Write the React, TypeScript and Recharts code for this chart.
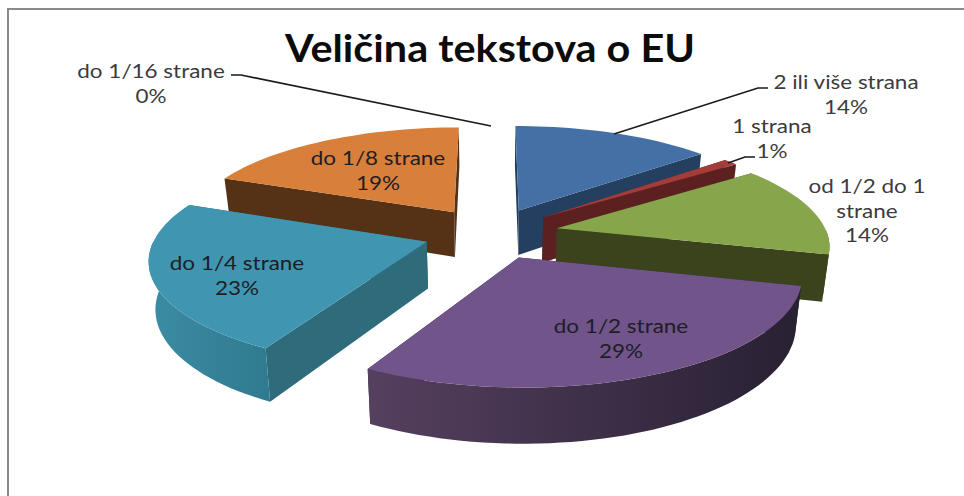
import { Pie, PieChart } from "recharts";

// Slices are listed from the back of the chart, so the front ones paint last.
const names = ["do 1/8 strane", "2 ili više strana", "1 strana", "od 1/2 do 1 strane", "do 1/2 strane", "do 1/4 strane", "do 1/16 strane"];
const shares = [19, 14, 1, 14, 29, 23, 0];
const topColors = ["#d87f3a", "#4470a6", "#a33d3a", "#87a64c", "#70548a", "#4096b0", "#999999"];
const wallColors = ["#553216", "#253f61", "#5c2020", "#3a431c", "#2f2439", "#2e6b7b", "#555555"];
const rimFrom = ["#5a3618", "#2a4669", "#5c2020", "#3a431c", "#55405f", "#3c8ca4", "#555555"];
const rimTo = ["#553216", "#253f61", "#5c2020", "#3a431c", "#282033", "#2f7a8e", "#555555"];

const data = names.map((name, i) => ({ name, value: shares[i] }));

const CX = 491;
const CY = 233;
const RADIUS = 270;
const RY = 103; // flattened height of the disc
const PERSPECTIVE = 0.147;
const EXPLODE = 0.25;
const DEPTH = 46;

type Pt = { x: number; y: number };

// plane coords (u right, v towards viewer) -> screen
const project = (u: number, v: number, bottom = false): Pt => {
  const w = 1 - PERSPECTIVE * v;
  const x = (RADIUS * u) / w;
  const y = (RY * v) / w;
  if (!bottom) return { x: CX + x, y: CY + y };
  return { x: CX + x * 0.98, y: CY + y + DEPTH / w };
};

const toPath = (pts: Pt[]) =>
  pts.map((p, i) => `${i ? "L" : "M"}${p.x.toFixed(1)},${p.y.toFixed(1)}`).join(" ") + " Z";

const Slice3D = (props: any) => {
  const { startAngle, endAngle, index } = props;
  if (startAngle === endAngle) return null;
  // recharts angles are counter-clockwise from 3 o'clock
  const rad = (a: number) => (a * Math.PI) / 180;
  const mid = rad((startAngle + endAngle) / 2);
  const ou = EXPLODE * Math.cos(mid);
  const ov = -EXPLODE * Math.sin(mid);
  const arc: [number, number][] = [];
  const front: [number, number][] = [];
  const steps = Math.max(4, Math.ceil(Math.abs(startAngle - endAngle) / 2));
  for (let s = 0; s <= steps; s++) {
    const a = rad(startAngle + ((endAngle - startAngle) * s) / steps);
    const pt: [number, number] = [ou + Math.cos(a), ov - Math.sin(a)];
    arc.push(pt);
    // only the part of the rim that faces the viewer gets a wall
    if (Math.sin(a) <= 0) front.push(pt);
  }
  const top = arc.map(([u, v]) => project(u, v));
  const low = arc.map(([u, v]) => project(u, v, true));
  const apexTop = project(ou, ov);
  const apexLow = project(ou, ov, true);
  const gradId = `rim-${index}`;
  const wall = wallColors[index];
  return (
    <g>
      <defs>
        <linearGradient id={gradId} x1="0" y1="0" x2="1" y2="0">
          <stop offset="0" stopColor={rimFrom[index]} />
          <stop offset="1" stopColor={rimTo[index]} />
        </linearGradient>
      </defs>
      <path d={toPath([apexTop, top[0], low[0], apexLow])} fill={wall} />
      <path d={toPath([apexTop, top[steps], low[steps], apexLow])} fill={wall} />
      {front.length > 1 && (
        <path
          d={toPath([
            ...front.map(([u, v]) => project(u, v)),
            ...[...front].reverse().map(([u, v]) => project(u, v, true)),
          ])}
          fill={`url(#${gradId})`}
        />
      )}
      <path d={toPath([apexTop, ...top])} fill={topColors[index]} />
    </g>
  );
};

type LabelSpec = { lines: string[]; x: number; y: number; dark?: boolean; leader?: [number, number][] };

const labelSpecs: Record<string, LabelSpec> = {
  "do 1/16 strane": { lines: ["do 1/16 strane", "0%"], x: 151, y: 78, leader: [[231, 75], [241, 75], [491, 126]] },
  "2 ili više strana": { lines: ["2 ili više strana", "14%"], x: 846, y: 89, leader: [[614, 134], [758, 88], [768, 88]] },
  "1 strana": { lines: ["1 strana", "1%"], x: 772, y: 133, leader: [[728, 163], [745, 157], [755, 157]] },
  "od 1/2 do 1 strane": { lines: ["od 1/2 do 1", "strane", "14%"], x: 867, y: 193 },
  "do 1/8 strane": { lines: ["do 1/8 strane", "19%"], x: 378, y: 165, dark: true },
  "do 1/4 strane": { lines: ["do 1/4 strane", "23%"], x: 237, y: 270, dark: true },
  "do 1/2 strane": { lines: ["do 1/2 strane", "29%"], x: 621, y: 333, dark: true },
};

const SliceLabel = (props: any) => {
  const spec = labelSpecs[props.name ?? props.payload?.name];
  if (!spec) return null;
  return (
    <g>
      {spec.leader && (
        <polyline
          points={spec.leader.map((p) => p.join(",")).join(" ")}
          fill="none"
          stroke="#1a1a1a"
          strokeWidth={1.6}
        />
      )}
      {spec.lines.map((line, i) => (
        <text
          key={line}
          transform={`translate(${spec.x},${spec.y + i * 24.5}) scale(1.125,1)`}
          textAnchor="middle"
          fontFamily="Lato, sans-serif"
          fontSize={20}
          fill={spec.dark ? "#1d1d26" : "#3c3c3c"}
        >
          {line}
        </text>
      ))}
    </g>
  );
};

export default function App() {
  return (
    <div style={{ position: "absolute", left: 0, top: 0, width: 964, height: 496, background: "#fff", overflow: "hidden" }}>
      <div
        style={{
          position: "absolute",
          left: 7,
          top: 8,
          width: 960,
          height: 500,
          border: "2px solid #8a8a8a",
          boxSizing: "border-box",
        }}
      />
      <PieChart width={964} height={496} style={{ position: "absolute", left: 0, top: 0 }}>
        <text
          x={490}
          y={62}
          textAnchor="middle"
          textLength={410}
          lengthAdjust="spacingAndGlyphs"
          fontFamily="Lato, sans-serif"
          fontWeight={700}
          fontSize={38}
          fill="#0c0c0c"
        >
          Veličina tekstova o EU
        </text>
        <Pie
          data={data}
          dataKey="value"
          nameKey="name"
          cx={CX}
          cy={CY}
          innerRadius={0}
          outerRadius={RADIUS}
          startAngle={158.4}
          endAngle={-201.6}
          stroke="none"
          shape={Slice3D}
          label={SliceLabel}
          labelLine={false}
          isAnimationActive={false}
        />
      </PieChart>
    </div>
  );
}
